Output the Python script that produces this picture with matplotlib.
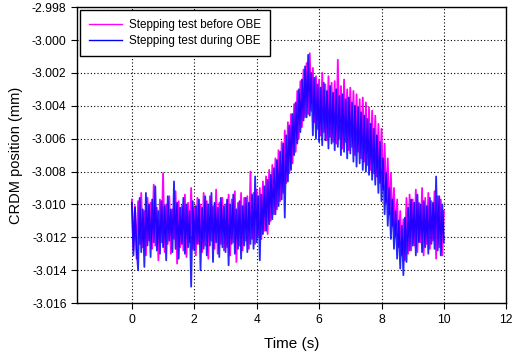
import numpy as np
import matplotlib
matplotlib.use("Agg")
import matplotlib.pyplot as plt

plt.rcParams['font.family'] = ['Liberation Sans', 'DejaVu Sans']

# Time axis: samples every 0.05 s from 0 to 10 s
t_start, t_end, n_samples = 0.0, 10.0, 201

before_obe = [
    -3.0097, -3.0128, -3.0101, -3.0133, -3.0098, -3.0124, -3.0093, -3.0126, -3.0104, -3.0131,
    -3.0096, -3.0122, -3.0099, -3.0127, -3.0088, -3.0125, -3.0102, -3.0134, -3.0097, -3.0123,
    -3.0081, -3.0129, -3.0100, -3.0124, -3.0095, -3.0130, -3.0103, -3.0121, -3.0092, -3.0136,
    -3.0098, -3.0126, -3.0101, -3.0128, -3.0094, -3.0132, -3.0099, -3.0123, -3.0090, -3.0127,
    -3.0102, -3.0131, -3.0096, -3.0124, -3.0100, -3.0129, -3.0093, -3.0125, -3.0098, -3.0133,
    -3.0095, -3.0122, -3.0101, -3.0127, -3.0091, -3.0130, -3.0099, -3.0124, -3.0096, -3.0128,
    -3.0100, -3.0126, -3.0094, -3.0131, -3.0097, -3.0123, -3.0092, -3.0135, -3.0099, -3.0125,
    -3.0093, -3.0128, -3.0096, -3.0122, -3.0095, -3.0127, -3.0080, -3.0121, -3.0093, -3.0124,
    -3.0091, -3.0119, -3.0090, -3.0121, -3.0086, -3.0116, -3.0083, -3.0118, -3.0079, -3.0110,
    -3.0076, -3.0106, -3.0072, -3.0103, -3.0067, -3.0098, -3.0062, -3.0093, -3.0055, -3.0087,
    -3.0050, -3.0081, -3.0045, -3.0075, -3.0039, -3.0068, -3.0031, -3.0060, -3.0025, -3.0053,
    -3.0018, -3.0047, -3.0014, -3.0045, -3.0008, -3.0043, -3.0017, -3.0050, -3.0022, -3.0054,
    -3.0024, -3.0058, -3.0020, -3.0056, -3.0027, -3.0061, -3.0022, -3.0059, -3.0026, -3.0062,
    -3.0025, -3.0063, -3.0012, -3.0060, -3.0028, -3.0066, -3.0024, -3.0062, -3.0030, -3.0067,
    -3.0029, -3.0065, -3.0031, -3.0070, -3.0033, -3.0068, -3.0036, -3.0072, -3.0035, -3.0074,
    -3.0038, -3.0076, -3.0041, -3.0079, -3.0043, -3.0081, -3.0046, -3.0083, -3.0051, -3.0087,
    -3.0054, -3.0091, -3.0063, -3.0099, -3.0072, -3.0106, -3.0081, -3.0113, -3.0090, -3.0119,
    -3.0097, -3.0126, -3.0104, -3.0131, -3.0109, -3.0134, -3.0096, -3.0130, -3.0094, -3.0128,
    -3.0097, -3.0125, -3.0091, -3.0129, -3.0099, -3.0123, -3.0090, -3.0131, -3.0096, -3.0124,
    -3.0093, -3.0127, -3.0098, -3.0122, -3.0092, -3.0133, -3.0095, -3.0126, -3.0097, -3.0131,
    -3.0104,
]

during_obe = [
    -3.0099, -3.0131, -3.0102, -3.0127, -3.0140, -3.0096, -3.0129, -3.0103, -3.0138, -3.0093,
    -3.0125, -3.0100, -3.0132, -3.0097, -3.0123, -3.0089, -3.0128, -3.0104, -3.0130, -3.0098,
    -3.0126, -3.0101, -3.0134, -3.0095, -3.0122, -3.0103, -3.0129, -3.0086, -3.0127, -3.0099,
    -3.0133, -3.0102, -3.0124, -3.0096, -3.0130, -3.0100, -3.0126, -3.0104, -3.0150, -3.0098,
    -3.0128, -3.0101, -3.0124, -3.0097, -3.0140, -3.0102, -3.0127, -3.0095, -3.0131, -3.0100,
    -3.0125, -3.0093, -3.0135, -3.0099, -3.0123, -3.0102, -3.0132, -3.0096, -3.0126, -3.0101,
    -3.0129, -3.0097, -3.0137, -3.0100, -3.0124, -3.0094, -3.0130, -3.0103, -3.0127, -3.0098,
    -3.0133, -3.0101, -3.0125, -3.0096, -3.0129, -3.0099, -3.0124, -3.0094, -3.0127, -3.0083,
    -3.0123, -3.0095, -3.0134, -3.0094, -3.0118, -3.0089, -3.0116, -3.0085, -3.0112, -3.0082,
    -3.0109, -3.0078, -3.0106, -3.0073, -3.0101, -3.0068, -3.0097, -3.0063, -3.0108, -3.0058,
    -3.0086, -3.0052, -3.0079, -3.0045, -3.0070, -3.0038, -3.0063, -3.0030, -3.0056, -3.0024,
    -3.0049, -3.0016, -3.0047, -3.0009, -3.0046, -3.0020, -3.0058, -3.0023, -3.0060, -3.0027,
    -3.0062, -3.0029, -3.0064, -3.0026, -3.0061, -3.0031, -3.0066, -3.0028, -3.0063, -3.0032,
    -3.0067, -3.0030, -3.0065, -3.0034, -3.0070, -3.0033, -3.0068, -3.0036, -3.0072, -3.0035,
    -3.0069, -3.0038, -3.0074, -3.0040, -3.0077, -3.0041, -3.0075, -3.0044, -3.0079, -3.0046,
    -3.0080, -3.0048, -3.0082, -3.0051, -3.0085, -3.0054, -3.0088, -3.0058, -3.0093, -3.0062,
    -3.0098, -3.0072, -3.0106, -3.0081, -3.0113, -3.0090, -3.0121, -3.0097, -3.0127, -3.0104,
    -3.0133, -3.0110, -3.0139, -3.0113, -3.0143, -3.0108, -3.0135, -3.0102, -3.0128, -3.0097,
    -3.0125, -3.0099, -3.0131, -3.0094, -3.0123, -3.0100, -3.0129, -3.0098, -3.0126, -3.0101,
    -3.0130, -3.0096, -3.0124, -3.0099, -3.0127, -3.0083, -3.0128, -3.0095, -3.0131, -3.0100,
    -3.0123,
]

series_labels = ["Stepping test before OBE", "Stepping test during OBE"]
x_ticks = [0, 2, 4, 6, 8, 10, 12]
y_ticks = [-3.016, -3.014, -3.012, -3.010, -3.008, -3.006, -3.004,
           -3.002, -3.000, -2.998]

time = np.linspace(t_start, t_end, n_samples)

fig = plt.figure(figsize=(5.13, 3.57), dpi=100)
ax = fig.add_axes([0.150, 0.151, 0.837, 0.829])

ax.plot(time, before_obe, color='#FF00FF', lw=1.3, label=series_labels[0], zorder=2)
ax.plot(time, during_obe, color='#0000FF', lw=1.3, alpha=0.85, label=series_labels[1], zorder=3)

ax.set_xlim(-1.76, 12)
ax.set_ylim(-3.016, -2.998)
ax.set_xticks(x_ticks)
ax.set_yticks(y_ticks)
ax.set_yticklabels([f"{v:.3f}" for v in y_ticks])
ax.tick_params(direction='out', length=4, width=0.8, labelsize=8.7, top=False, right=False)
ax.grid(True, color='black', linestyle=(0, (1, 2)), linewidth=0.8)
ax.set_axisbelow(True)
for s in ax.spines.values():
    s.set_linewidth(1.0)

ax.set_xlabel("Time (s)", fontsize=11, labelpad=8)
ax.set_ylabel("CRDM position (mm)", fontsize=10.5, labelpad=6)

leg = ax.legend(loc='upper left', fontsize=8.4, fancybox=False, framealpha=1,
                edgecolor='black', borderaxespad=0.25, handlelength=2.9,
                handletextpad=0.6, labelspacing=0.4, borderpad=0.75)
leg.get_frame().set_linewidth(1.0)
for h in leg.get_lines():
    h.set_linewidth(1.0)
    h.set_alpha(1.0)

fig.savefig("out.png", dpi=100)
